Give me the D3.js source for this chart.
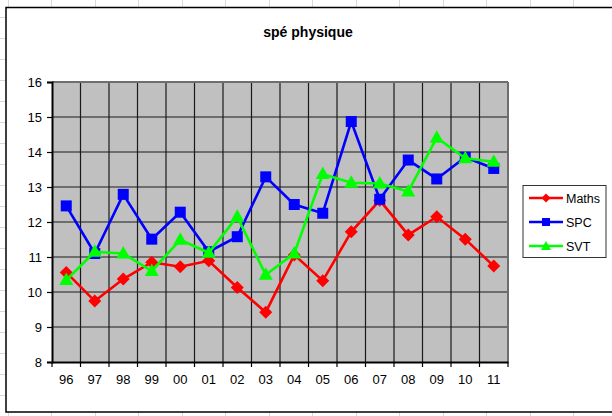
<!DOCTYPE html>
<html><head><meta charset="utf-8">
<script src="https://cdn.jsdelivr.net/npm/d3@7"></script>
<style>body{margin:0;background:#fff}svg{display:block}</style>
</head><body>
<script>
const years = ["96","97","98","99","00","01","02","03","04","05","06","07","08","09","10","11"];
const maths = [10.56,9.74,10.37,10.85,10.72,10.89,10.13,9.42,11.06,10.32,11.72,12.62,11.63,12.15,11.51,10.74];
const spc   = [12.46,11.1,12.79,11.51,12.28,11.15,11.58,13.29,12.5,12.25,14.87,12.65,13.77,13.23,13.85,13.53];
const svt   = [10.34,11.15,11.1,10.6,11.49,11.12,12.15,10.49,11.1,13.37,13.12,13.1,12.87,14.41,13.82,13.72];
const yTicks = [8,9,10,11,12,13,14,15,16];
const seriesNames = ["Maths","SPC","SVT"];

(function(){
const W=612,H=416;
const svg=d3.select("body").append("svg").attr("width",W).attr("height",H);
const font="'Liberation Sans', Arial, sans-serif";

// spreadsheet background grid
const bg=svg.append("g").attr("stroke","#d9d9d9").attr("stroke-width",1);
d3.range(0,14).forEach(i=>{const xx=Math.round(7.5+i*43.5)+.5;bg.append("line").attr("x1",xx).attr("x2",xx).attr("y1",0).attr("y2",H);});
d3.range(0,19).forEach(i=>{const yy=Math.round(17+i*21)+.5;bg.append("line").attr("x1",0).attr("x2",W).attr("y1",yy).attr("y2",yy);});
// chart area
svg.append("rect").attr("x",6).attr("y",7.5).attr("width",W+10).attr("height",404.5)
  .attr("fill","#fff").attr("stroke","#000").attr("stroke-width",1.5);

const pL=52,pR=508,pT=82,pB=362;
const x=d3.scaleBand().domain(years).range([pL,pR]);
const y=d3.scaleLinear().domain([8,16]).range([pB,pT]);

svg.append("rect").attr("x",pL).attr("y",pT).attr("width",pR-pL).attr("height",pB-pT).attr("fill","#c0c0c0");

// gridlines
const g=svg.append("g");
yTicks.slice(1,-1).forEach(v=>g.append("line").attr("x1",pL).attr("x2",pR).attr("y1",y(v)).attr("y2",y(v)).attr("stroke","#1a1a1a").attr("stroke-width",1.2));
years.slice(1).forEach(c=>g.append("line").attr("x1",x(c)).attr("x2",x(c)).attr("y1",pT).attr("y2",pB).attr("stroke","#1a1a1a").attr("stroke-width",1.2));
g.append("line").attr("x1",pL).attr("x2",pR).attr("y1",pT).attr("y2",pT).attr("stroke","#6e6e6e").attr("stroke-width",2);
g.append("line").attr("x1",pR).attr("x2",pR).attr("y1",pT).attr("y2",pB).attr("stroke","#6e6e6e").attr("stroke-width",2);

// y axis
const ya=svg.append("g").attr("transform",`translate(${pL},0)`)
  .call(d3.axisLeft(y).tickValues(yTicks).tickSize(5).tickPadding(5).tickFormat(d3.format("d")));
ya.select(".domain").attr("stroke","#000").attr("stroke-width",2);
ya.selectAll(".tick line").attr("stroke","#000").attr("stroke-width",1.2);
ya.selectAll("text").attr("font-family",font).attr("font-size",13).attr("fill","#000");

// x axis
const xa=svg.append("g").attr("transform",`translate(0,${pB})`)
  .call(d3.axisBottom(x).tickSize(0).tickPadding(10));
xa.select(".domain").attr("stroke","#000").attr("stroke-width",2.2);
xa.selectAll("text").attr("font-family",font).attr("font-size",13).attr("fill","#000").attr("dy","0.95em");
const xt=years.map(c=>x(c)).concat([pR]);
xt.forEach(v=>svg.append("line").attr("x1",v).attr("x2",v).attr("y1",pB).attr("y2",pB+5).attr("stroke","#000").attr("stroke-width",1.2));

// title
svg.append("text").attr("x",308).attr("y",37).attr("text-anchor","middle").attr("font-family",font)
  .attr("font-weight","bold").attr("font-size",14).text("spé physique");

const colors=["#ff0000","#0000ff","#00ff00"], syms=["diamond","square","triangle"];
const series=[maths,spc,svt].map((vals,i)=>({name:seriesNames[i],vals,color:colors[i],sym:syms[i]}));
function marker(sel,sym,color,cx,cy){
  if(sym==="square") sel.append("rect").attr("x",cx-5.5).attr("y",cy-5.5).attr("width",11).attr("height",11).attr("fill",color);
  else if(sym==="diamond") sel.append("path").attr("d",`M${cx},${cy-6.5}L${cx+6.5},${cy}L${cx},${cy+6.5}L${cx-6.5},${cy}Z`).attr("fill",color);
  else sel.append("path").attr("d",`M${cx},${cy-7.5}L${cx+7},${cy+5}L${cx-7},${cy+5}Z`).attr("fill",color);
}
const line=d3.line().x((d,i)=>x(years[i])+x.bandwidth()/2).y(d=>y(d));
series.forEach(s=>{
  const sg=svg.append("g");
  sg.append("path").attr("d",line(s.vals)).attr("fill","none").attr("stroke",s.color).attr("stroke-width",2.6);
  s.vals.forEach((v,i)=>marker(sg,s.sym,s.color,x(years[i])+x.bandwidth()/2,y(v)));
});

// legend
const lg=svg.append("g");
lg.append("rect").attr("x",523).attr("y",185.5).attr("width",83).attr("height",72).attr("fill","#fff").attr("stroke","#333").attr("stroke-width",1);
series.forEach((s,i)=>{
  const ly=[198,222,246][i];
  lg.append("line").attr("x1",529).attr("x2",563).attr("y1",ly).attr("y2",ly).attr("stroke",s.color).attr("stroke-width",2.6);
  const mg=lg.append("g");
  if(s.sym==="square") mg.append("rect").attr("x",546-4).attr("y",ly-4).attr("width",8).attr("height",8).attr("fill",s.color);
  else if(s.sym==="diamond") mg.append("path").attr("d",`M546,${ly-4.5}L550.5,${ly}L546,${ly+4.5}L541.5,${ly}Z`).attr("fill",s.color);
  else mg.append("path").attr("d",`M546,${ly-5}L551,${ly+4}L541,${ly+4}Z`).attr("fill",s.color);
  lg.append("text").attr("x",566).attr("y",ly+4.5).attr("font-family",font).attr("font-size",12.5).text(s.name);
});
})();
</script>
</body></html>
